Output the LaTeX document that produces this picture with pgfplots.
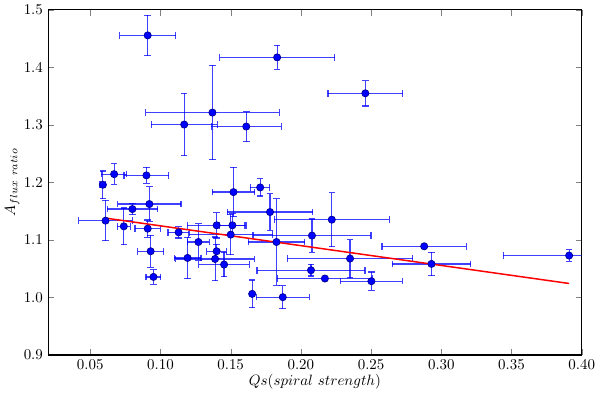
\documentclass[border=0pt]{standalone}
\usepackage{pgfplots}
\pgfplotsset{compat=1.18}
\begin{document}
\begin{tikzpicture}
\begin{axis}[
    scale only axis,
    width=357pt, height=231pt,
    xmin=0.02, xmax=0.40,
    ymin=0.9, ymax=1.5,
    xtick={0.05,0.10,...,0.40},
    ytick={0.9,1.0,...,1.5},
    xticklabel style={/pgf/number format/.cd, fixed, fixed zerofill, precision=2},
    yticklabel style={/pgf/number format/.cd, fixed, fixed zerofill, precision=1},
    tick align=inside,
    major tick length=4pt,
    axis line style={line width=0.8pt},
    xlabel={$Qs(spiral\ strength)$},
    ylabel={$A_{flux\ ratio}$},
    xlabel style={yshift=4pt},
    ylabel style={yshift=-4pt},
    clip=true,
]
\addplot+[
    only marks,
    mark=*,
    mark size=2.4pt,
    mark options={fill=blue, draw=blue!60!black, line width=0.5pt},
    error bars/.cd,
        x dir=both, x explicit,
        y dir=both, y explicit,
        error bar style={blue, opacity=0.75, line width=0.8pt},
        error mark options={blue, opacity=0.75, line width=0.8pt, mark size=2.2pt, rotate=90},
] coordinates {
    (0.0909,1.4555) +- (0.020,0.035)
    (0.1831,1.4173) +- (0.041,0.021)
    (0.2459,1.3549) +- (0.0266,0.022)
    (0.1370,1.3214) +- (0.0475,0.082)
    (0.1169,1.3006) +- (0.0235,0.054)
    (0.1611,1.2971) +- (0.025,0.026)
    (0.0590,1.1960) +- (0.002,0.024)
    (0.0670,1.2144) +- (0.009,0.018)
    (0.0900,1.2122) +- (0.016,0.014)
    (0.0921,1.1624) +- (0.0225,0.030)
    (0.0800,1.1537) +- (0.018,0.010)
    (0.0609,1.1336) +- (0.019,0.035)
    (0.0739,1.1237) +- (0.0047,0.032)
    (0.0909,1.1197) +- (0.009,0.015)
    (0.0930,1.0804) +- (0.0092,0.028)
    (0.0950,1.0358) +- (0.0053,0.0125)
    (0.1129,1.1133) +- (0.0075,0.010)
    (0.1193,1.0688) +- (0.0095,0.036)
    (0.1270,1.0965) +- (0.0079,0.032)
    (0.1400,1.1255) +- (0.021,0.022)
    (0.1512,1.1255) +- (0.009,0.020)
    (0.1400,1.0804) +- (0.007,0.012)
    (0.1389,1.0670) +- (0.028,0.038)
    (0.1453,1.0573) +- (0.018,0.021)
    (0.1500,1.1093) +- (0.030,0.035)
    (0.1520,1.1832) +- (0.015,0.043)
    (0.1710,1.1913) +- (0.0069,0.015)
    (0.1780,1.1485) +- (0.0305,0.032)
    (0.1826,1.0965) +- (0.020,0.075)
    (0.1653,1.0063) +- (0.001,0.024)
    (0.1871,1.0006) +- (0.019,0.020)
    (0.2079,1.1076) +- (0.042,0.029)
    (0.2220,1.1353) +- (0.041,0.047)
    (0.2072,1.0474) +- (0.0385,0.010)
    (0.2171,1.0330) +- (0.034,0.004)
    (0.2350,1.0677) +- (0.0447,0.033)
    (0.2502,1.0284) +- (0.022,0.016)
    (0.2878,1.0890) +- (0.030,0.003)
    (0.2930,1.0584) +- (0.0278,0.0205)
    (0.3910,1.0729) +- (0.047,0.010)
};
\addplot[red, line width=1pt] coordinates {(0.0609,1.138) (0.391,1.0244)};
\end{axis}
\end{tikzpicture}
\end{document}
